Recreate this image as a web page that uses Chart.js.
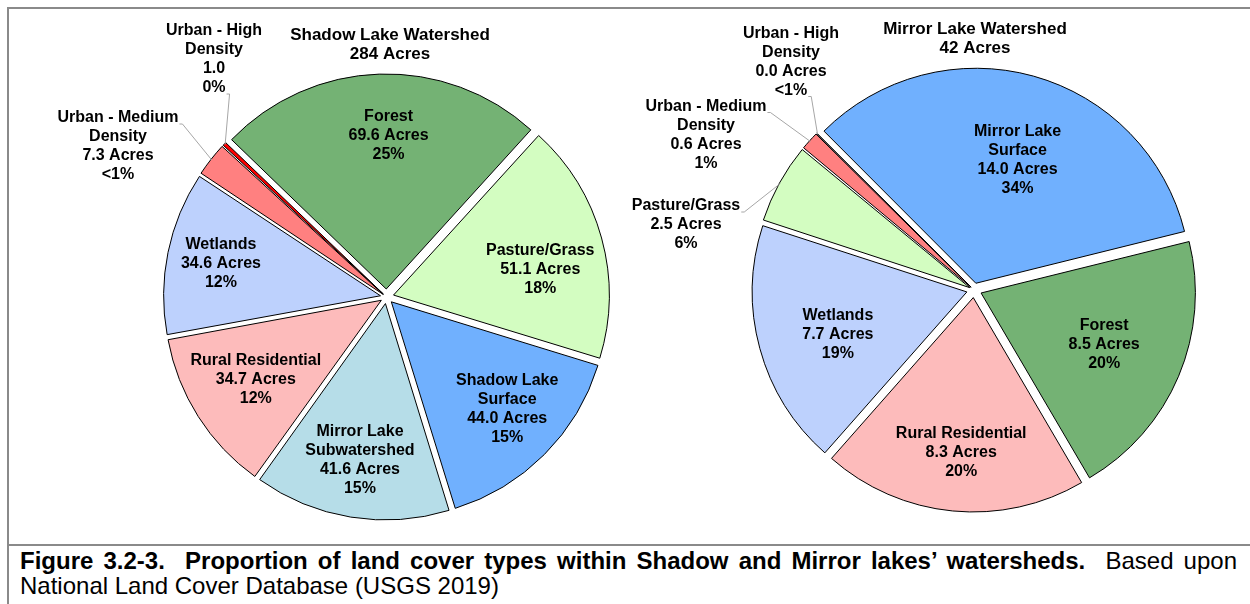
<!DOCTYPE html>
<html>
<head>
<meta charset="utf-8">
<script src="https://cdn.jsdelivr.net/npm/chart.js@4.4.1/dist/chart.umd.min.js"></script>
<style>
  html, body { margin: 0; padding: 0; background: #fff; }
  body { width: 1250px; height: 604px; position: relative; overflow: hidden; font-family: "Liberation Sans", Arial, sans-serif; }
  canvas { position: absolute; }
  .rule { position: absolute; background: #8a8a8a; }
  #caption { position: absolute; left: 20px; top: 548px; width: 1217px; font-size: 24px; line-height: 25px; color: #000; }
  #caption .l1 { text-align: justify; text-align-last: justify; white-space: nowrap; }
</style>
</head>
<body>
<div class="rule" style="left:7px;top:7px;width:1243px;height:2px"></div>
<div class="rule" style="left:7px;top:7px;width:2px;height:597px"></div>
<div class="rule" style="left:7px;top:544px;width:1243px;height:2px"></div>

<canvas id="shadowPie" width="612" height="544" style="left:8px;top:0px"></canvas>
<canvas id="mirrorPie" width="640" height="544" style="left:610px;top:0px"></canvas>

<div id="caption">
  <div class="l1"><b>Figure 3.2-3.&nbsp; Proportion of land cover types within Shadow and Mirror lakes’ watersheds.</b>&nbsp; Based upon</div>
  <div>National Land Cover Database (USGS 2019)</div>
</div>

<script>
// Shadow Lake watershed (284 acres)
let shadowCategories = ["Forest", "Pasture/Grass", "Shadow Lake\nSurface", "Mirror Lake\nSubwatershed", "Rural Residential", "Wetlands", "Urban - Medium\nDensity", "Urban - High\nDensity"];
let shadowAcres = [69.6, 51.1, 44.0, 41.6, 34.7, 34.6, 7.3, 1.0];
let shadowAcreLabels = ["69.6 Acres", "51.1 Acres", "44.0 Acres", "41.6 Acres", "34.7 Acres", "34.6 Acres", "7.3 Acres", "1.0"];
let shadowPctLabels = ["25%", "18%", "15%", "15%", "12%", "12%", "<1%", "0%"];

// Mirror Lake watershed (42 acres)
let mirrorCategories = ["Mirror Lake\nSurface", "Forest", "Rural Residential", "Wetlands", "Pasture/Grass", "Urban - Medium\nDensity", "Urban - High\nDensity"];
let mirrorAcres = [14.0, 8.5, 8.3, 7.7, 2.5, 0.6, 0.02];
let mirrorAcreLabels = ["14.0 Acres", "8.5 Acres", "8.3 Acres", "7.7 Acres", "2.5 Acres", "0.6 Acres", "0.0 Acres"];
let mirrorPctLabels = ["34%", "20%", "20%", "19%", "6%", "1%", "<1%"];

var coverColors = {
    "Forest": "#74b274",
    "Pasture/Grass": "#d3fdc1",
    "Shadow Lake\nSurface": "#70b0fe",
    "Mirror Lake\nSurface": "#70b0fe",
    "Mirror Lake\nSubwatershed": "#b6dde8",
    "Rural Residential": "#fdbbbb",
    "Wetlands": "#bdd1fd",
    "Urban - Medium\nDensity": "#ff8080",
    "Urban - High\nDensity": "#ff0000"
};

const FONT = '"Liberation Sans", Arial, sans-serif';
const EXPLODE = 8; // px each slice is pulled out

// chart.js moves an arc by offset/4 * (2 - sin(angle)), so undo that to get a flat explode
function explodeOffsets(values) {
    let total = values.reduce((a, b) => a + b, 0);
    return values.map(function (v) {
        let ang = 2 * Math.PI * v / total;
        return 4 * EXPLODE / (2 - Math.sin(Math.min(Math.PI, ang)));
    });
}

// draws the data labels, leader lines and the title of each pie
const sliceLabels = {
    id: 'sliceLabels',
    afterDatasetsDraw(chart, args, opts) {
        const ctx = chart.ctx;
        const meta = chart.getDatasetMeta(0);
        const lh = 19;
        ctx.save();
        ctx.fillStyle = '#000';
        ctx.textAlign = 'center';
        ctx.textBaseline = 'middle';
        ctx.font = 'bold 16px ' + FONT;
        let cx0 = meta.data[0].x, cy0 = meta.data[0].y;

        meta.data.forEach(function (arc, i) {
            const p = arc.getProps(['x', 'y', 'startAngle', 'endAngle', 'outerRadius'], true);
            const mid = (p.startAngle + p.endAngle) / 2;
            const lines = opts.names[i].split('\n').concat([opts.acres[i], opts.pcts[i]]);
            const pl = opts.place[i];
            let x, y;
            if (pl.out) {
                x = p.x + pl.dx;
                y = p.y + pl.dy;
            } else {
                const a = mid + (pl.shift || 0) * Math.PI / 180;
                const d = pl.r * p.outerRadius;
                x = p.x + Math.cos(a) * d;
                y = p.y + Math.sin(a) * d;
            }
            const top = y - (lines.length - 1) / 2 * lh;
            lines.forEach(function (t, k) {
                ctx.fillText(t, x, top + k * lh);
            });
            if (pl.out) {
                // leader line from the end of a text line to the slice rim
                const k = pl.lineAt;
                const w = ctx.measureText(lines[k]).width;
                const sx = x + w / 2 + 1, sy = top + k * lh + 6;
                const rr = p.outerRadius + EXPLODE - 1;
                const ex = p.x + Math.cos(mid) * rr, ey = p.y + Math.sin(mid) * rr;
                ctx.strokeStyle = '#a6a6a6';
                ctx.lineWidth = 1;
                ctx.beginPath();
                ctx.moveTo(sx, sy);
                ctx.lineTo(sx + 3, sy);
                ctx.lineTo(ex, ey);
                ctx.stroke();
            }
        });

        ctx.font = 'bold 17px ' + FONT;
        opts.title.forEach(function (t, k) {
            ctx.fillText(t, cx0 + opts.titleDx, cy0 + opts.titleDy + k * lh);
        });
        ctx.restore();
    }
};

function makePie(id, cats, values, acreLabels, pctLabels, rot, radius, pad, place, title, titleDx, titleDy) {
    return new Chart(id, {
        type: "pie",
        data: {
            labels: cats,
            datasets: [{
                data: values,
                backgroundColor: cats.map(c => coverColors[c]),
                borderColor: "#000",
                borderWidth: 1,
                offset: explodeOffsets(values)
            }]
        },
        options: {
            responsive: false,
            animation: false,
            events: [],
            rotation: rot,
            radius: radius,
            layout: {padding: pad},
            plugins: {
                legend: {display: false},
                tooltip: {enabled: false},
                sliceLabels: {
                    names: cats, acres: acreLabels, pcts: pctLabels,
                    place: place, title: title, titleDx: titleDx, titleDy: titleDy
                }
            }
        },
        plugins: [sliceLabels]
    });
}

makePie("shadowPie", shadowCategories, shadowAcres, shadowAcreLabels, shadowPctLabels,
    -46, 215, {left: 145, top: 50, right: 0, bottom: 0},
    [
        {r: 0.753, shift: 2.6},
        {r: 0.726, shift: 5.4},
        {r: 0.767, shift: -2},
        {r: 0.77, shift: 0},
        {r: 0.72, shift: 0},
        {r: 0.786, shift: 0},
        {out: true, dx: -268.5, dy: -150.5, lineAt: 0},
        {out: true, dx: -172.5, dy: -237.5, lineAt: 3}
    ],
    ["Shadow Lake Watershed", "284 Acres"], 3.5, -262);

makePie("mirrorPie", mirrorCategories, mirrorAcres, mirrorAcreLabels, mirrorPctLabels,
    -45, 214, {left: 88, top: 36, right: 0, bottom: 0},
    [
        {r: 0.64, shift: 3},
        {r: 0.66, shift: 0},
        {r: 0.76, shift: -1},
        {r: 0.67, shift: -3},
        {out: true, dx: -288, dy: -65, lineAt: 0},
        {out: true, dx: -268, dy: -155, lineAt: 0},
        {out: true, dx: -183, dy: -228, lineAt: 3}
    ],
    ["Mirror Lake Watershed", "42 Acres"], 1, -261);
</script>
</body>
</html>
